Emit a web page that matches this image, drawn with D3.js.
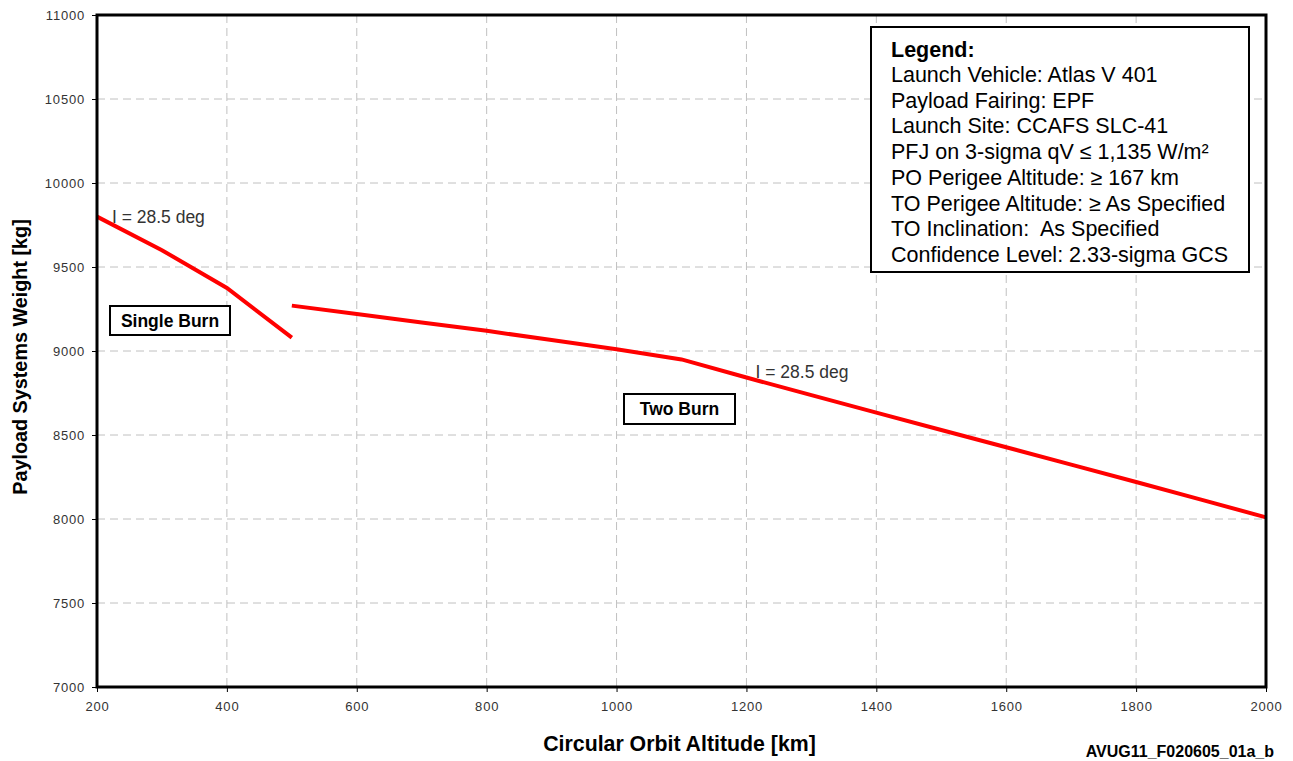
<!DOCTYPE html>
<html>
<head>
<meta charset="utf-8">
<script src="https://cdn.jsdelivr.net/npm/d3@7"></script>
<style>
  body { margin: 0; background: #fff; }
  svg { font-family: Arial, "Liberation Sans", sans-serif; }
</style>
</head>
<body>
<svg id="chart" width="1293" height="761"></svg>
<script>
// circular orbit altitude [km] vs payload systems weight [kg]
var singleAlt = [200, 300, 400, 500];
var singleKg = [9800, 9600, 9375, 9080];
var twoAlt = [500, 600, 700, 800, 900, 1000, 1100, 1200, 1300, 1400, 1500, 1600, 1700, 1800, 1900, 2000];
var twoKg = [9270, 9220, 9170, 9120, 9065, 9010, 8950, 8842, 8737, 8633, 8530, 8427, 8324, 8220, 8115, 8010];
var xTicks = [200, 400, 600, 800, 1000, 1200, 1400, 1600, 1800, 2000];
var yTicks = [7000, 7500, 8000, 8500, 9000, 9500, 10000, 10500, 11000];
var legendLines = [
    "Launch Vehicle: Atlas V 401",
    "Payload Fairing: EPF",
    "Launch Site: CCAFS SLC-41",
    "PFJ on 3-sigma qV \u2264 1,135 W/m\u00b2",
    "PO Perigee Altitude: \u2265 167 km",
    "TO Perigee Altitude: \u2265 As Specified",
    "TO Inclination:  As Specified",
    "Confidence Level: 2.33-sigma GCS"
];

var svg = d3.select("#chart"),
    pl = 97, pr = 1266, pt = 15, pb = 687;

var x = d3.scaleLinear().domain([200, 2000]).range([pl, pr]);
var y = d3.scaleLinear().domain([7000, 11000]).range([pb, pt]);

// grid
var grid = svg.append("g");
grid.selectAll(".gx").data(xTicks.slice(1, -1)).enter().append("line")
    .attr("x1", function (d) { return x(d); }).attr("x2", function (d) { return x(d); })
    .attr("y1", pt).attr("y2", pb)
    .attr("stroke", "#c0c0c0").attr("stroke-dasharray", "8,5");
grid.selectAll(".gy").data(yTicks.slice(1, -1)).enter().append("line")
    .attr("y1", function (d) { return y(d); }).attr("y2", function (d) { return y(d); })
    .attr("x1", pl).attr("x2", pr)
    .attr("stroke", "#c0c0c0").attr("stroke-dasharray", "8,5");

// axes
var xAxis = svg.append("g").attr("transform", "translate(0," + pb + ")")
    .call(d3.axisBottom(x).tickValues(xTicks).tickSize(5).tickPadding(10).tickFormat(d3.format("d")));
var yAxis = svg.append("g").attr("transform", "translate(" + pl + ",0)")
    .call(d3.axisLeft(y).tickValues(yTicks).tickSize(5).tickPadding(7).tickFormat(d3.format("d")));
[xAxis, yAxis].forEach(function (a) {
    a.select(".domain").remove();
    a.selectAll("line").attr("stroke", "#000");
    a.selectAll("text").attr("fill", "#333").style("font-size", "13px")
        .style("letter-spacing", "0.8px")
        .style("font-family", "Arial, 'Liberation Sans', sans-serif");
});

// lines
var line = d3.line().x(function (d) { return x(d[0]); }).y(function (d) { return y(d[1]); });
[d3.zip(singleAlt, singleKg), d3.zip(twoAlt, twoKg)].forEach(function (pts) {
    svg.append("path").datum(pts).attr("d", line)
        .attr("fill", "none").attr("stroke", "#ff0000").attr("stroke-width", 4);
});

// frame
svg.append("rect").attr("x", pl).attr("y", pt)
    .attr("width", pr - pl).attr("height", pb - pt)
    .attr("fill", "none").attr("stroke", "#000").attr("stroke-width", 3);

// annotations
svg.append("text").attr("x", x(223)).attr("y", y(9800) + 6)
    .attr("fill", "#333").style("font-size", "17.5px").text("I = 28.5 deg");
svg.append("text").attr("x", x(1214)).attr("y", y(8860) + 3)
    .attr("fill", "#333").style("font-size", "17.5px").text("I = 28.5 deg");

function labelBox(cx, cy, w, h, txt) {
    svg.append("rect").attr("x", cx).attr("y", cy).attr("width", w).attr("height", h)
        .attr("fill", "#fff").attr("stroke", "#000").attr("stroke-width", 2);
    svg.append("text").attr("x", cx + w / 2).attr("y", cy + h / 2 + 6)
        .attr("text-anchor", "middle").style("font-size", "17.5px").style("font-weight", "bold")
        .text(txt);
}
labelBox(110, 306, 120, 29, "Single Burn");
labelBox(624, 394, 111, 30, "Two Burn");

// legend box
svg.append("rect").attr("x", 871).attr("y", 27).attr("width", 378).attr("height", 245)
    .attr("fill", "#fff").attr("stroke", "#000").attr("stroke-width", 2);
svg.append("text").attr("x", 891).attr("y", 57).style("font-size", "21.5px")
    .style("font-weight", "bold").text("Legend:");
svg.selectAll(".leg").data(legendLines).enter().append("text")
    .attr("x", 891).attr("y", function (d, i) { return 82 + i * 25.7; })
    .style("font-size", "21.5px").style("white-space", "pre")
    .text(function (d) { return d; });

// titles
svg.append("text").attr("x", pl + (pr - pl) / 2 - 2).attr("y", 751)
    .attr("text-anchor", "middle").style("font-size", "21.3px").style("font-weight", "bold")
    .text("Circular Orbit Altitude [km]");
svg.append("text").attr("transform", "translate(27," + ((pt + pb) / 2 + 6) + ") rotate(-90)")
    .attr("text-anchor", "middle").style("font-size", "19.8px").style("font-weight", "bold")
    .text("Payload Systems Weight [kg]");
svg.append("text").attr("x", 1274).attr("y", 757)
    .attr("text-anchor", "end").style("font-size", "16px").style("font-weight", "bold")
    .text("AVUG11_F020605_01a_b");
</script>
</body>
</html>
